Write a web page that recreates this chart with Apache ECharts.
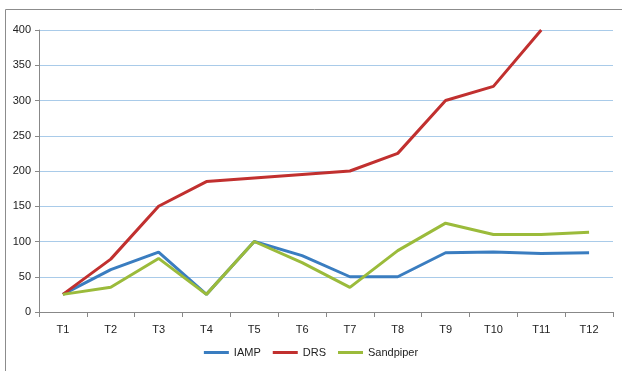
<!DOCTYPE html>
<html>
<head>
<meta charset="utf-8">
<script src="https://cdn.jsdelivr.net/npm/echarts@6/dist/echarts.min.js"></script>
<style>
html, body { margin: 0; padding: 0; background: #fff; }
#chart { width: 622px; height: 371px; }
</style>
</head>
<body>
<div id="chart"></div>
<script>
var categories = ['T1', 'T2', 'T3', 'T4', 'T5', 'T6', 'T7', 'T8', 'T9', 'T10', 'T11', 'T12'];
var iamp = [25, 60, 85, 25, 100, 80, 50, 50, 84, 85, 83, 84];
var drs = [25, 75, 150, 185, 190, 195, 200, 225, 300, 320, 400, null];
var sandpiper = [25, 35, 76, 25, 100, 70, 35, 87, 126, 110, 110, 113];

var chart = echarts.init(document.getElementById('chart'), null, {renderer: 'canvas'});

function lineSeries(name, data, color) {
    return {
        name: name,
        type: 'line',
        data: data,
        symbol: 'none',
        lineStyle: {color: color, width: 3},
        itemStyle: {color: color},
        animation: false
    };
}

var option = {
    animation: false,
    textStyle: {fontFamily: 'Liberation Sans', color: '#222'},
    graphic: [{
        type: 'rect',
        shape: {x: 5.5, y: 9.5, width: 700, height: 420},
        style: {fill: 'none', stroke: '#8c8c8c', lineWidth: 1}
    }],
    grid: {left: 39, right: 9, top: 30, bottom: 59},
    legend: {
        bottom: 8,
        left: 'center',
        itemWidth: 25,
        itemHeight: 3,
        itemGap: 12,
        icon: 'rect',
        textStyle: {fontSize: 11, color: '#222', fontFamily: 'Liberation Sans'},
        data: ['IAMP', 'DRS', 'Sandpiper']
    },
    xAxis: {
        type: 'category',
        data: categories,
        boundaryGap: true,
        axisLine: {lineStyle: {color: '#888'}},
        axisTick: {show: true, length: 5, lineStyle: {color: '#888'}},
        axisLabel: {fontSize: 11, color: '#222', margin: 12}
    },
    yAxis: {
        type: 'value',
        min: 0,
        max: 400,
        interval: 50,
        axisLine: {show: true, lineStyle: {color: '#888'}},
        axisTick: {show: true, length: 4, lineStyle: {color: '#888'}},
        axisLabel: {fontSize: 11, color: '#222', margin: 8},
        splitLine: {lineStyle: {color: '#a9cbe9', width: 1}}
    },
    series: [
        lineSeries('IAMP', iamp, '#3a7dc0'),
        lineSeries('DRS', drs, '#c1302f'),
        lineSeries('Sandpiper', sandpiper, '#9bbb3b')
    ]
};
chart.setOption(option);
</script>
</body>
</html>
